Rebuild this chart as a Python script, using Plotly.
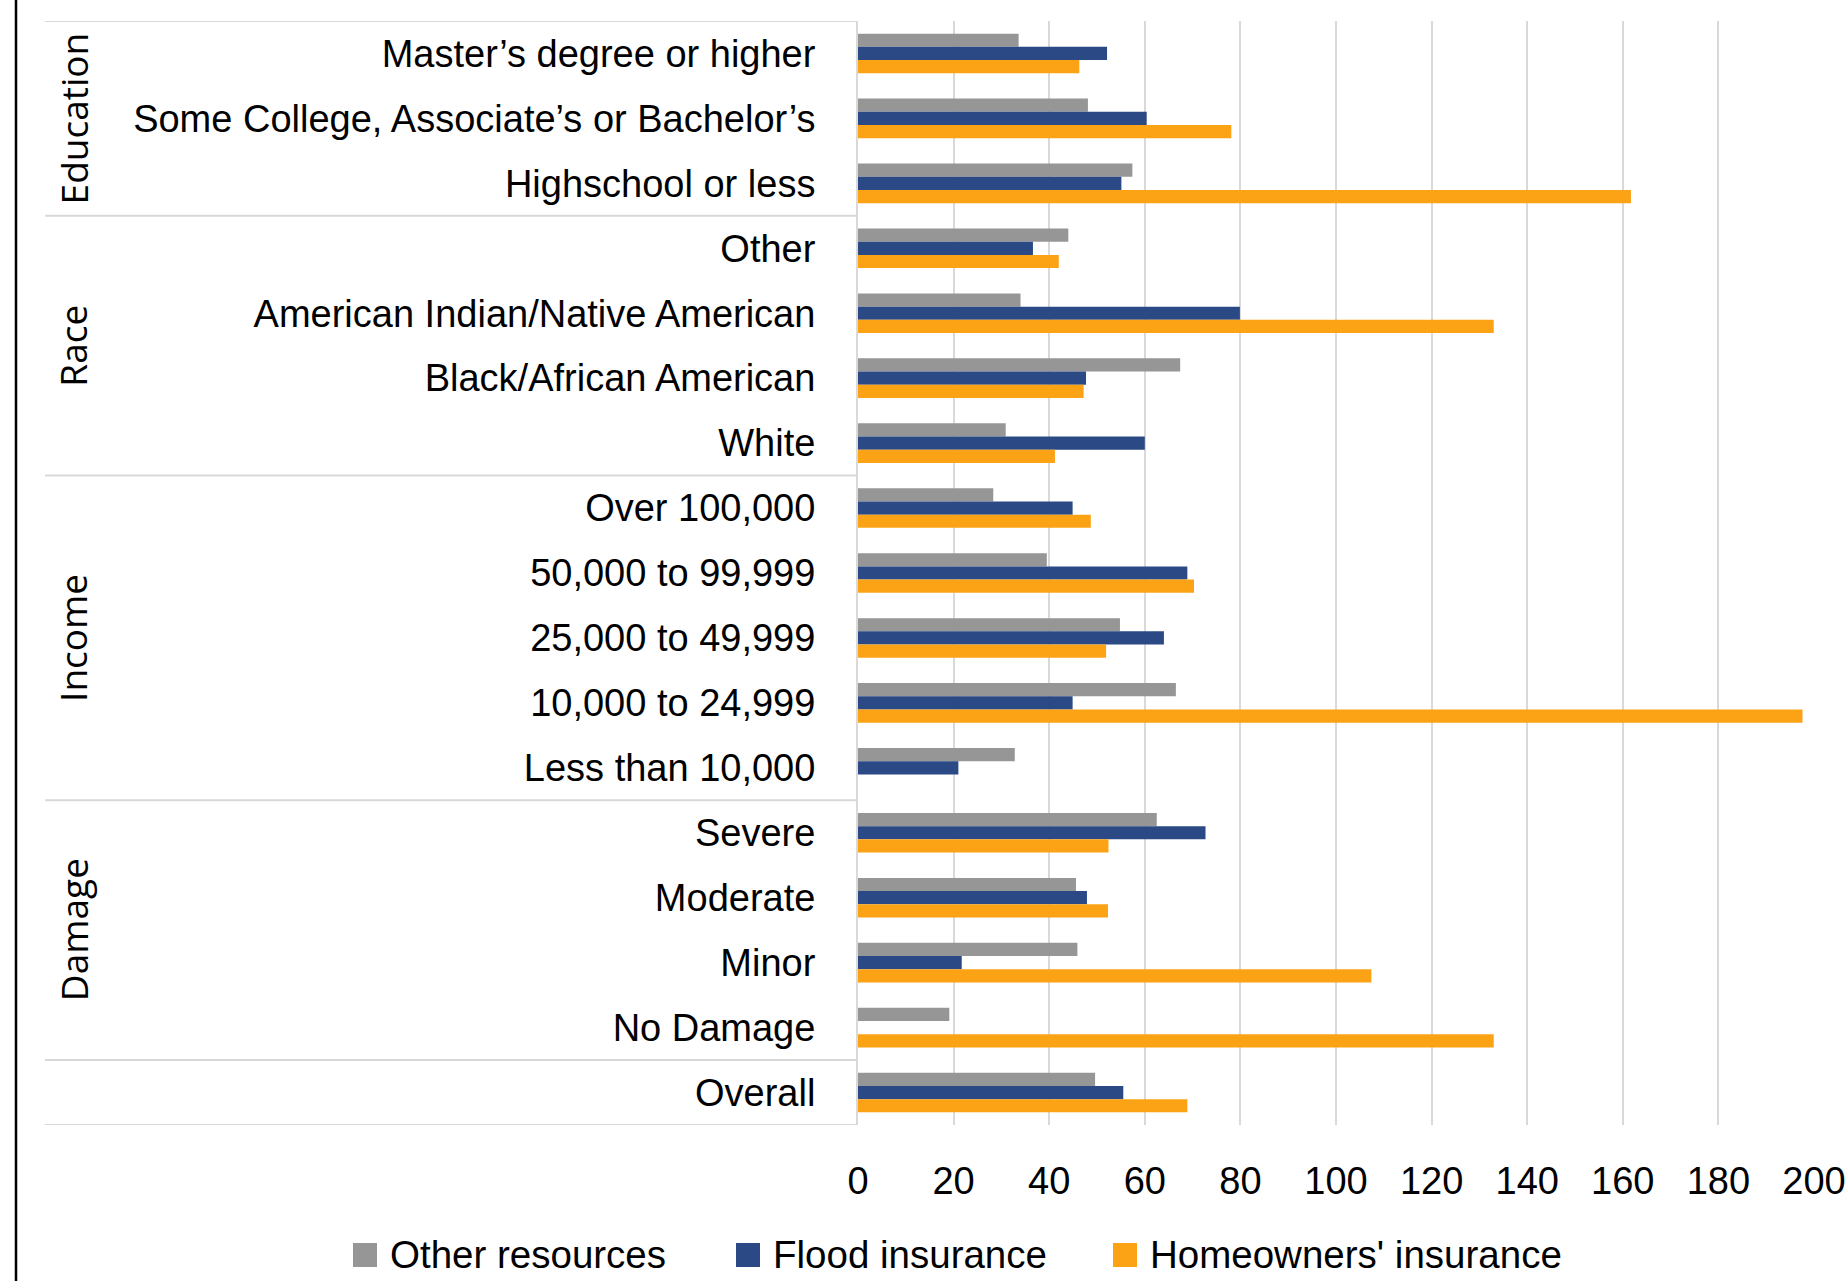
import plotly.graph_objects as go

categories = [
    "Master’s degree or higher",
    "Some College, Associate’s or Bachelor’s",
    "Highschool or less",
    "Other",
    "American Indian/Native American",
    "Black/African American",
    "White",
    "Over 100,000",
    "50,000 to 99,999",
    "25,000 to 49,999",
    "10,000 to 24,999",
    "Less than 10,000",
    "Severe",
    "Moderate",
    "Minor",
    "No Damage",
    "Overall",
]
groups = ["Education", "Race", "Income", "Damage", ""]
group_sizes = [3, 4, 5, 4, 1]

other_resources = [33.6, 48.1, 57.4, 44.0, 34.0, 67.4, 30.9, 28.3, 39.5, 54.8, 66.5, 32.8, 62.5, 45.6, 45.9, 19.1, 49.6]
flood_insurance = [52.1, 60.4, 55.1, 36.6, 79.9, 47.7, 60.0, 44.9, 68.9, 64.0, 44.9, 21.0, 72.7, 47.9, 21.7, None, 55.5]
homeowners_insurance = [46.3, 78.1, 161.7, 42.0, 133.0, 47.2, 41.2, 48.7, 70.3, 51.9, 197.6, None, 52.4, 52.3, 107.4, 133.0, 68.9]

series_names = ["Other resources", "Flood insurance", "Homeowners' insurance"]
series_colors = ["#969696", "#2B4A85", "#FCA315"]
x_ticks = [0, 20, 40, 60, 80, 100, 120, 140, 160, 180, 200]

FW, FH = 1846, 1281
ML, MR, MT, MB = 858, 32, 21, 156
PW = FW - ML - MR
PH = FH - MT - MB


def px_x(p):
    return (p - ML) / PW


def px_y(p):
    return 1 - (p - MT) / PH


FONT = "Liberation Sans, Arial, sans-serif"

fig = go.Figure()
for name, vals, col in zip(series_names, [other_resources, flood_insurance, homeowners_insurance], series_colors):
    fig.add_trace(go.Bar(
        y=categories, x=vals, name=name, orientation="h",
        marker=dict(color=col, line=dict(width=0)),
        showlegend=False,
    ))

shapes = []
# group separator lines in the category area
bounds = [-0.5]
acc = -0.5
for s in group_sizes:
    acc += s
    bounds.append(acc)
for b in bounds:
    shapes.append(dict(type="line", xref="paper", yref="y", x0=px_x(45), x1=0, y0=b, y1=b,
                       line=dict(color="#D9D9D9", width=2)))
# left black border
shapes.append(dict(type="line", xref="paper", yref="paper", x0=px_x(16), x1=px_x(16),
                   y0=px_y(0), y1=px_y(FH), line=dict(color="black", width=2.5)))

annotations = []
start = 0
for g, s in zip(groups, group_sizes):
    if g:
        annotations.append(dict(text=g, xref="paper", yref="y", x=px_x(73), y=start + (s - 1) / 2,
                                textangle=-90, showarrow=False, xanchor="center", yanchor="middle",
                                font=dict(family="Open Sans, DejaVu Sans, sans-serif", size=37, color="black")))
    start += s

# manual legend
legend_sq = [353, 736, 1113]
legend_tx = [388, 771, 1148]
for name, col, sq, tx in zip(series_names, series_colors, legend_sq, legend_tx):
    shapes.append(dict(type="rect", xref="paper", yref="paper", x0=px_x(sq), x1=px_x(sq + 24),
                       y0=px_y(1243), y1=px_y(1267), fillcolor=col, line=dict(width=0)))
    annotations.append(dict(text=name, xref="paper", yref="paper", x=px_x(tx), y=px_y(1254),
                            xanchor="left", yanchor="middle", showarrow=False,
                            font=dict(family=FONT, size=38.5, color="black")))

fig.update_layout(
    width=FW, height=FH,
    margin=dict(l=ML, r=MR, t=MT, b=MB, autoexpand=False),
    barmode="group", bargap=0.39, bargroupgap=0,
    plot_bgcolor="white", paper_bgcolor="white",
    showlegend=False,
    shapes=shapes, annotations=annotations,
    font=dict(family=FONT, color="black"),
)
fig.update_xaxes(range=[0, 200], tickvals=x_ticks, showgrid=True, gridcolor="#D9D9D9", gridwidth=2,
                 zeroline=False, showline=False, ticks="", automargin=False,
                 tickfont=dict(size=38, family=FONT, color="black"),
                 ticklabelstandoff=30)
fig.update_yaxes(type="category", categoryorder="array", categoryarray=categories,
                 range=[len(categories) - 0.5, -0.5], showgrid=False, zeroline=False, automargin=False,
                 showline=True, linecolor="#D9D9D9", linewidth=2, ticks="",
                 tickfont=dict(size=38, family=FONT, color="black"), ticklabelstandoff=33)

fig.write_html("out.html")
